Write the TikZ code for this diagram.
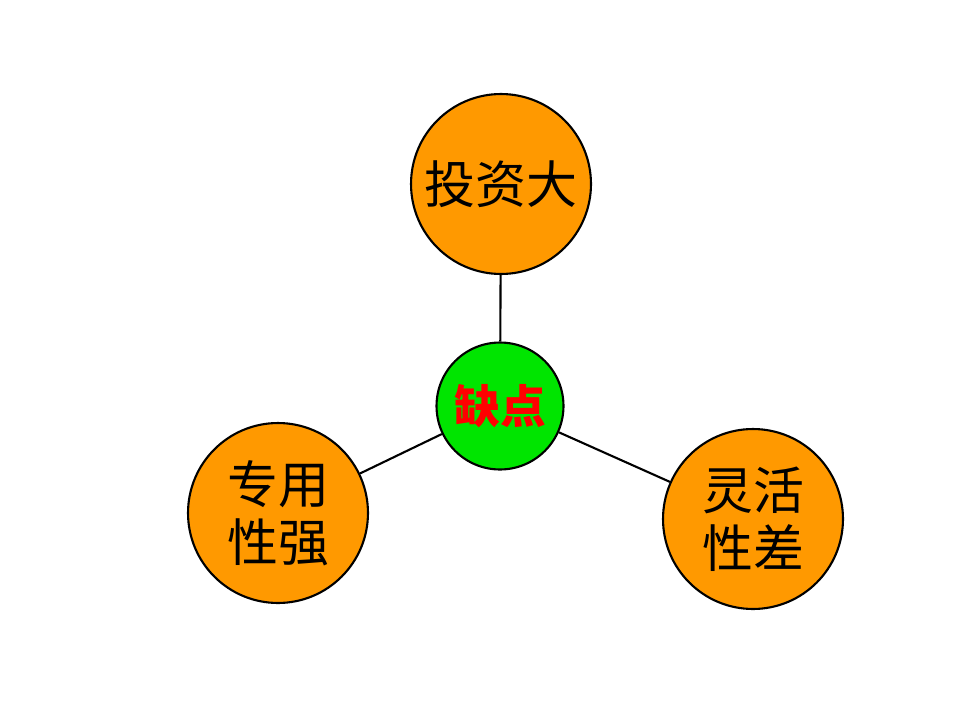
\documentclass[tikz,border=0pt]{standalone}
\usepackage{fontspec}
\newfontfamily\cjk{Noto Sans CJK SC}
\begin{document}
\begin{tikzpicture}[x=0.02cm,y=-0.02cm,
  outer/.style={circle,draw=black,line width=1.2pt,fill=orange!80!yellow,minimum size=3.6cm,inner sep=0pt,font=\cjk\fontsize{29}{33}\selectfont,align=center,text=black},
  inner/.style={circle,draw=black,line width=1.2pt,fill=green!90!black,minimum size=2.54cm,inner sep=0pt,font=\cjk\bfseries\fontsize{26}{30}\selectfont,text=red},
  link/.style={line width=1.2pt}]
\useasboundingbox (0,0) rectangle (960,720);
\node[inner] (c) at (500,406) {缺点};
\node[outer] (t) at (501,184) {投资大};
\node[outer] (l) at (278,513) {专用\\性强};
\node[outer] (r) at (753,519) {灵活\\性差};
\draw[link] (c) -- (t);
\draw[link] (c) -- (l);
\draw[link] (c) -- (r);
\end{tikzpicture}
\end{document}
